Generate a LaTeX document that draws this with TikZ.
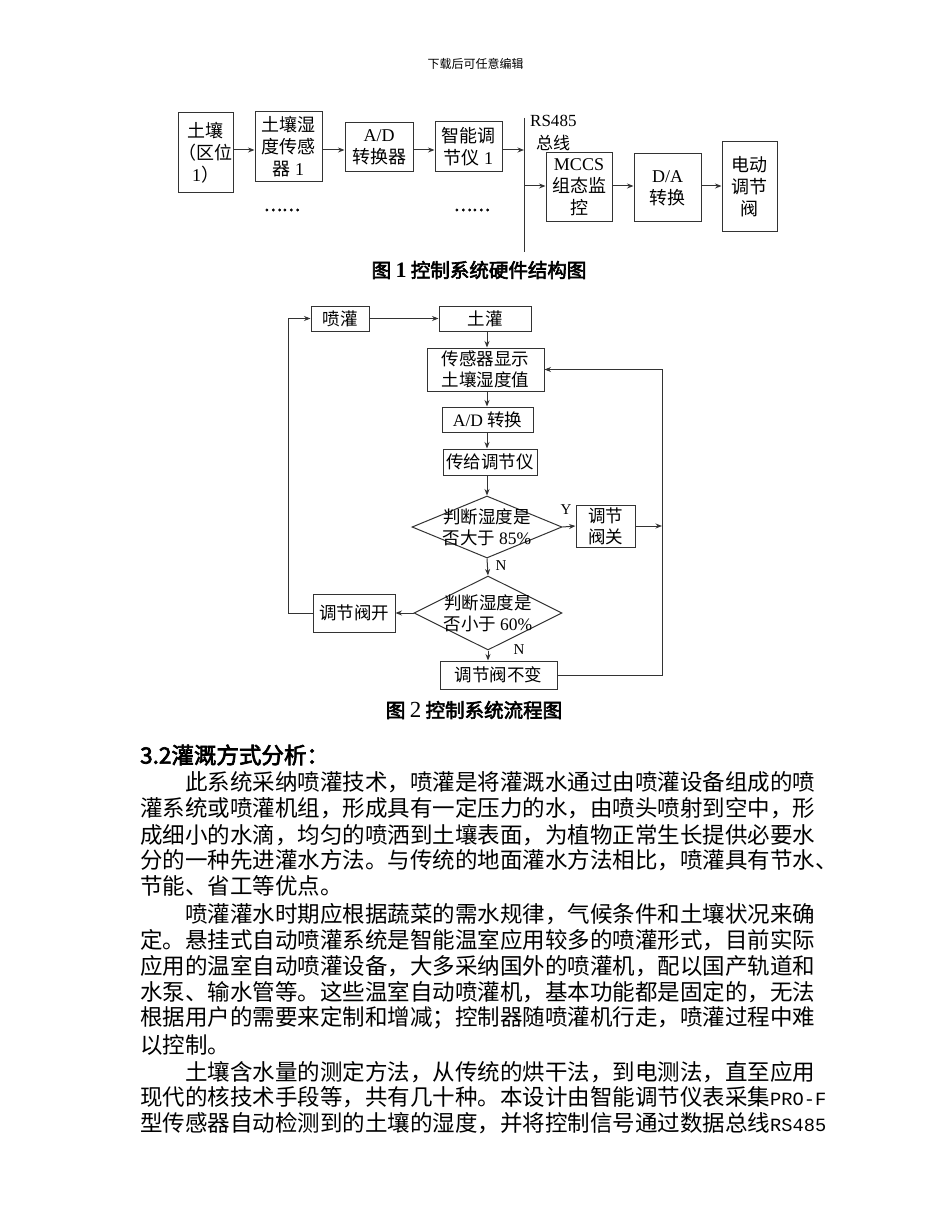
\documentclass[tikz,border=0pt]{standalone}
\usepackage{fontspec}
\setmainfont{Liberation Serif}
\newfontfamily\cjk{Noto Sans CJK SC}
\newfontfamily\cjkbf[FakeBold=3]{Noto Sans CJK SC}
\newfontfamily\bodymono{Liberation Mono}
\usepackage{tikz}
\usetikzlibrary{arrows.meta,positioning,shapes.geometric}
\definecolor{ink}{HTML}{333333}
\newcommand\figfont{\fontsize{18}{22}\selectfont\cjk}
\newcommand\flowfont{\fontsize{17.5}{21}\selectfont\cjk}
\newcommand\bodyfont{\fontsize{22.5}{26}\selectfont\cjk}
\newcommand\capfont{\fontsize{19.5}{22}\selectfont\cjkbf}
\newcommand\ltn[1]{{\rmfamily #1}}
\newcommand\asc[1]{{\fontsize{18.7}{26}\selectfont\bodymono #1}}

\begin{document}
\begin{tikzpicture}[
  x=1pt, y=-1pt,
  >={Stealth[length=6.5pt,width=5pt]},
  blk/.style={draw=ink, line width=1pt, inner sep=0pt, align=center, font=\figfont},
  flow/.style={blk, font=\flowfont},
  dia/.style={diamond, draw=ink, line width=1pt, inner sep=-10pt, align=center, font=\flowfont},
  wire/.style={draw=ink, line width=1pt},
  lbl/.style={font=\fontsize{15}{15}\selectfont\rmfamily, inner sep=1pt},
  figcap/.style={font=\capfont, inner sep=0pt},
  txt/.style={font=\bodyfont, anchor=west, inner sep=0pt},
]
\path[use as bounding box, fill=white] (0,0) rectangle (950,1230);

\node[font=\fontsize{12}{12}\selectfont\cjk] (hdr) at (475.5,64) {下载后可任意编辑};

% ===== figure 1: hardware =====
\coordinate (r1) at (0,150);
\coordinate (r2) at (0,186);
\node[blk, minimum width=55pt, minimum height=80pt] (soil) at (205.5,153) {土壤\\（区位\\\ltn{1}）};
\node[blk, minimum width=67pt, minimum height=70pt] (sens) at (288.5,147) {土壤湿\\度传感\\器 \ltn{1}};
\node[blk, minimum width=68pt, minimum height=49pt] (adc) at (379,147.5) {\ltn{A/D}\\转换器};
\node[blk, minimum width=67pt, minimum height=50pt] (reg) at (468.5,147) {智能调\\节仪 \ltn{1}};
\node[font=\fontsize{17}{17}\selectfont\cjkbf] (dots1) at (282,210) {……};
\node[font=\fontsize{17}{17}\selectfont\cjkbf] (dots2) at (472,210) {……};
% bus
\coordinate (bustop) at (524,118);
\coordinate (busbot) at (524,252);
\draw[wire] (bustop) -- (busbot);
\node[font=\fontsize{17}{17}\selectfont\rmfamily, anchor=west, inner sep=0pt] (rs) at (530,121) {RS485};
\node[font=\fontsize{17}{17}\selectfont\cjk, anchor=west, inner sep=0pt] (zx) at (536,143) {总线};
\node[blk, minimum width=66pt, minimum height=69pt] (mcgs) at (579,187.5) {\ltn{MCCS}\\组态监\\控};
\node[blk, minimum width=67pt, minimum height=68pt] (dac) at (667.5,188) {\ltn{D/A}\\转换};
\node[blk, minimum width=55pt, minimum height=90pt] (valve) at (749.5,187) {电动\\调节\\阀};
\draw[wire,->] (soil.east |- r1) -- (sens.west |- r1);
\draw[wire,->] (sens.east |- r1) -- (adc.west |- r1);
\draw[wire,->] (adc.east |- r1) -- (reg.west |- r1);
\draw[wire,->] (reg.east |- r1) -- (bustop |- r1);
\draw[wire,->] (bustop |- r2) -- (mcgs.west |- r2);
\draw[wire,->] (mcgs.east |- r2) -- (dac.west |- r2);
\draw[wire,->] (dac.east |- r2) -- (valve.west |- r2);
\node[figcap] (cap1) at (479,270) {图 {\rmfamily\bfseries\fontsize{22}{22}\selectfont 1} 控制系统硬件结构图};

% ===== figure 2: flow =====
\coordinate (col) at (487,0);
\coordinate (lft) at (288,0);
\coordinate (rgt) at (662,0);
\node[flow, minimum width=58pt, minimum height=25pt] (spray) at (340,318.5) {喷灌};
\node[flow, minimum width=92pt, minimum height=25pt] (pour) at (485,318.5) {土灌};
\node[flow, minimum width=117pt, minimum height=43pt] (show) at (485.5,369.5) {传感器显示\\土壤湿度值};
\node[flow, minimum width=91pt, minimum height=25pt] (ad2) at (487.5,419.5) {\ltn{A/D} 转换};
\node[flow, minimum width=94pt, minimum height=26pt] (pass) at (490,462) {传给调节仪};
\node[dia, aspect=2.4, minimum width=150pt, minimum height=62pt] (hi) at (487,527) {判断湿度是\\否大于 \ltn{85\%}};
\node[flow, minimum width=59pt, minimum height=42pt] (vclose) at (605.5,526) {调节\\阀关};
\node[dia, aspect=2, minimum width=148pt, minimum height=74pt] (lo) at (488,613) {判断湿度是\\否小于 \ltn{60\%}};
\node[flow, minimum width=82pt, minimum height=38pt] (vopen) at (354,613) {调节阀开};
\node[flow, minimum width=117pt, minimum height=28pt] (vkeep) at (498.5,675) {调节阀不变};
\node[lbl] (ylab) at (566,510) {Y};
\node[lbl] (nlab1) at (501,566) {N};
\node[lbl] (nlab2) at (519,650) {N};

\draw[wire,->] (spray.east) -- (pour.west);
\draw[wire,->] (col |- pour.south) -- (col |- show.north);
\draw[wire,->] (col |- show.south) -- (col |- ad2.north);
\draw[wire,->] (col |- ad2.south) -- (col |- pass.north);
\draw[wire,->] (col |- pass.south) -- (hi.north);
\draw[wire,->] (hi.east) -- (vclose.west);
\draw[wire,->] (vclose.east) -- (vclose.east -| rgt);
\draw[wire,->] (hi.south) -- (lo.north);
\draw[wire,->] (lo.west) -- (vopen.east);
\draw[wire,->] (vopen.west) -- (vopen.west -| lft) |- (spray.west);
\draw[wire,->] (lo.south) -- (lo.south |- vkeep.north);
\draw[wire,->] (vkeep.east) -- (vkeep.east -| rgt) -- (rgt |- show.east) -- (show.east);
\node[figcap] (cap2) at (474,710) {图 {\rmfamily\fontsize{23}{22}\selectfont 2} 控制系统流程图};

% ===== text =====
\node[txt, font=\fontsize{22.5}{26}\selectfont\cjkbf] (sec) at (140,755) {3.2灌溉方式分析：};
\node[txt] (l1) at (185,782) {此系统采纳喷灌技术，喷灌是将灌溉水通过由喷灌设备组成的喷};
\node[txt] (l2) at (140,808) {灌系统或喷灌机组，形成具有一定压力的水，由喷头喷射到空中，形};
\node[txt] (l3) at (140,835) {成细小的水滴，均匀的喷洒到土壤表面，为植物正常生长提供必要水};
\node[txt] (l4) at (140,860) {分的一种先进灌水方法。与传统的地面灌水方法相比，喷灌具有节水、};
\node[txt] (l5) at (140,886) {节能、省工等优点。};
\node[txt] (l6) at (185,914) {喷灌灌水时期应根据蔬菜的需水规律，气候条件和土壤状况来确};
\node[txt] (l7) at (140,940) {定。悬挂式自动喷灌系统是智能温室应用较多的喷灌形式，目前实际};
\node[txt] (l8) at (140,966) {应用的温室自动喷灌设备，大多采纳国外的喷灌机，配以国产轨道和};
\node[txt] (l9) at (140,992) {水泵、输水管等。这些温室自动喷灌机，基本功能都是固定的，无法};
\node[txt] (l10) at (140,1018) {根据用户的需要来定制和增减；控制器随喷灌机行走，喷灌过程中难};
\node[txt] (l11) at (140,1045) {以控制。};
\node[txt] (l12) at (185,1072) {土壤含水量的测定方法，从传统的烘干法，到电测法，直至应用};
\node[txt] (l13) at (140,1097) {现代的核技术手段等，共有几十种。本设计由智能调节仪表采集\asc{PRO-F}};
\node[txt] (l14) at (140,1123) {型传感器自动检测到的土壤的湿度，并将控制信号通过数据总线\asc{RS485}};

\end{tikzpicture}
\end{document}
